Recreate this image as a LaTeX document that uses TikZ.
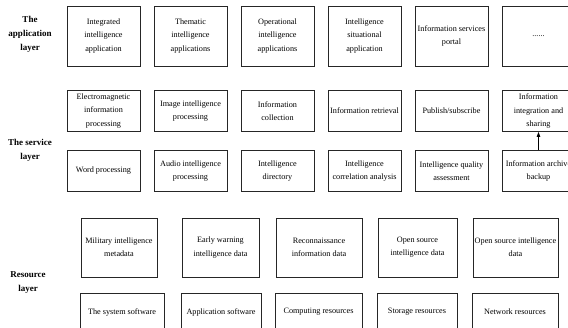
\documentclass[tikz,border=0pt]{standalone}
\usepackage{fontspec}
\setmainfont{Liberation Serif}
\usetikzlibrary{arrows.meta}
\begin{document}
\begin{tikzpicture}[x=1pt,y=-1pt,
  boxnode/.style={draw=black!85,line width=0.8pt,inner sep=0pt,align=center,
    font=\fontsize{8.2}{13.2}\selectfont},
  appbox/.style={boxnode,minimum width=73pt,minimum height=60pt},
  svcbox/.style={boxnode,minimum width=73pt,minimum height=41pt},
  layerlabel/.style={align=center,font=\fontsize{9}{14}\selectfont\bfseries,inner sep=0pt}]
\useasboundingbox (0,0) rectangle (568,327);
% layer labels
\node[layerlabel] (la) at (30,34) {The\\application\\layer};
\node[layerlabel] (ls) at (30,150) {The service\\layer};
\node[layerlabel] (lr) at (28,283) {Resource\\layer};
% application layer
\node[appbox] (a1) at (103.5,36) {Integrated\\intelligence\\application};
\node[appbox] (a2) at (190.5,36) {Thematic\\intelligence\\applications};
\node[appbox] (a3) at (277.5,36) {Operational\\intelligence\\applications};
\node[appbox] (a4) at (364.5,36) {Intelligence\\situational\\application};
\node[appbox] (a5) at (451.5,36) {Information services\\portal};
\node[appbox] (a6) at (538.5,36) {......};
% service layer row 1
\node[svcbox] (s1) at (103.5,111) {Electromagnetic\\information\\processing};
\node[svcbox] (s2) at (190.5,111) {Image intelligence\\processing};
\node[svcbox] (s3) at (277.5,111) {Information\\collection};
\node[svcbox] (s4) at (364.5,111) {Information retrieval};
\node[svcbox] (s5) at (451.5,111) {Publish/subscribe};
\node[svcbox] (s6) at (538.5,111) {Information\\integration and\\sharing};
% service layer row 2
\node[svcbox] (t1) at (103.5,171) {Word processing};
\node[svcbox] (t2) at (190.5,171) {Audio intelligence\\processing};
\node[svcbox] (t3) at (277.5,171) {Intelligence\\directory};
\node[svcbox] (t4) at (364.5,171) {Intelligence\\correlation analysis};
\node[svcbox] (t5) at (451.5,171) {Intelligence quality\\assessment};
\node[svcbox] (t6) at (538.5,171) {Information archive\\backup};
\draw[line width=0.8pt,-{Triangle[length=5pt,width=3.5pt]}] (t6.north) -- (s6.south);
% resource layer row 1
\node[boxnode,minimum width=76pt,minimum height=59pt] (r1) at (119,247.5) {Military intelligence\\metadata};
\node[boxnode,minimum width=77pt,minimum height=59pt] (r2) at (220.5,247.5) {Early warning\\intelligence data};
\node[boxnode,minimum width=86pt,minimum height=59pt] (r3) at (319,247.5) {Reconnaissance\\information data};
\node[boxnode,minimum width=79pt,minimum height=59pt] (r4) at (417.5,247.5) {Open source\\intelligence data};
\node[boxnode,minimum width=85pt,minimum height=59pt] (r5) at (515.5,247.5) {Open source intelligence\\data};
% resource layer row 2
\node[boxnode,minimum width=84pt,minimum height=38pt] (q1) at (122,312) {The system software};
\node[boxnode,minimum width=80pt,minimum height=38pt] (q2) at (221,312) {Application software};
\node[boxnode,minimum width=87pt,minimum height=38pt] (q3) at (318.5,312) {Computing resources};
\node[boxnode,minimum width=80pt,minimum height=38pt] (q4) at (417,312) {Storage resources};
\node[boxnode,minimum width=86pt,minimum height=38pt] (q5) at (515,312) {Network resources};
\end{tikzpicture}
\end{document}
